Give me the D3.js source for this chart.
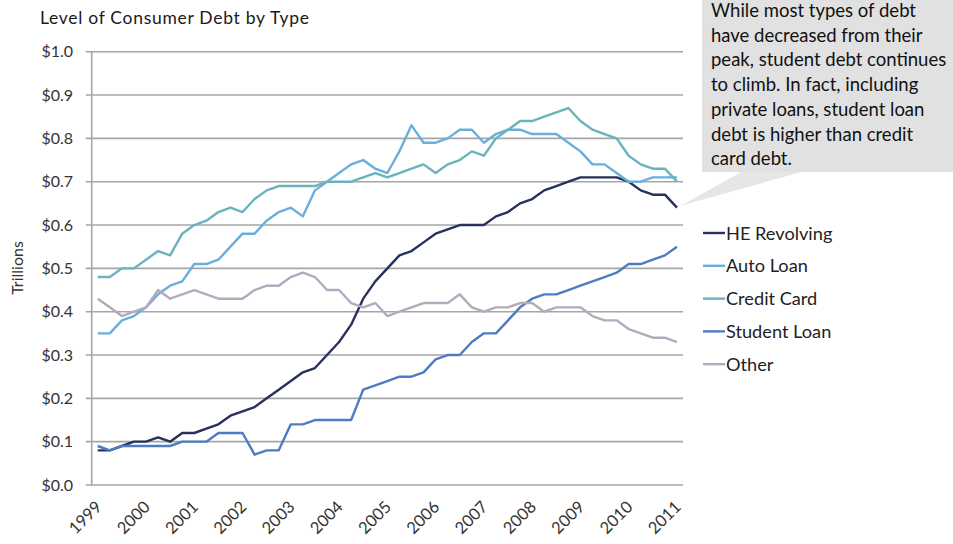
<!DOCTYPE html>
<html><head><meta charset="utf-8">
<script src="https://cdn.jsdelivr.net/npm/d3@7"></script>
<style>body{margin:0;background:#fff}svg{display:block}text{font-family:Lato,"Open Sans",sans-serif;fill:#1a1a1a}</style>
</head><body><svg id="c" width="953" height="544"></svg>
<script>
const years = ["1999","2000","2001","2002","2003","2004","2005","2006","2007","2008","2009","2010","2011"];
const seriesNames = ["HE Revolving","Auto Loan","Credit Card","Student Loan","Other"];
const colors = ["#28305c","#6aafdb","#6ab3bd","#4d7cc4","#b3abbd"];
const heRevolving = [0.08,0.08,0.09,0.10,0.10,0.11,0.10,0.12,0.12,0.13,0.14,0.16,0.17,0.18,0.20,0.22,0.24,0.26,0.27,0.30,0.33,0.37,0.43,0.47,0.50,0.53,0.54,0.56,0.58,0.59,0.60,0.60,0.60,0.62,0.63,0.65,0.66,0.68,0.69,0.70,0.71,0.71,0.71,0.71,0.70,0.68,0.67,0.67,0.64];
const autoLoan = [0.35,0.35,0.38,0.39,0.41,0.44,0.46,0.47,0.51,0.51,0.52,0.55,0.58,0.58,0.61,0.63,0.64,0.62,0.68,0.70,0.72,0.74,0.75,0.73,0.72,0.77,0.83,0.79,0.79,0.80,0.82,0.82,0.79,0.81,0.82,0.82,0.81,0.81,0.81,0.79,0.77,0.74,0.74,0.72,0.70,0.70,0.71,0.71,0.71];
const creditCard = [0.48,0.48,0.50,0.50,0.52,0.54,0.53,0.58,0.60,0.61,0.63,0.64,0.63,0.66,0.68,0.69,0.69,0.69,0.69,0.70,0.70,0.70,0.71,0.72,0.71,0.72,0.73,0.74,0.72,0.74,0.75,0.77,0.76,0.80,0.82,0.84,0.84,0.85,0.86,0.87,0.84,0.82,0.81,0.80,0.76,0.74,0.73,0.73,0.70];
const studentLoan = [0.09,0.08,0.09,0.09,0.09,0.09,0.09,0.10,0.10,0.10,0.12,0.12,0.12,0.07,0.08,0.08,0.14,0.14,0.15,0.15,0.15,0.15,0.22,0.23,0.24,0.25,0.25,0.26,0.29,0.30,0.30,0.33,0.35,0.35,0.38,0.41,0.43,0.44,0.44,0.45,0.46,0.47,0.48,0.49,0.51,0.51,0.52,0.53,0.55];
const other = [0.43,0.41,0.39,0.40,0.41,0.45,0.43,0.44,0.45,0.44,0.43,0.43,0.43,0.45,0.46,0.46,0.48,0.49,0.48,0.45,0.45,0.42,0.41,0.42,0.39,0.40,0.41,0.42,0.42,0.42,0.44,0.41,0.40,0.41,0.41,0.42,0.42,0.40,0.41,0.41,0.41,0.39,0.38,0.38,0.36,0.35,0.34,0.34,0.33];
const yTicks = [0,0.1,0.2,0.3,0.4,0.5,0.6,0.7,0.8,0.9,1.0];
const noteLines = ["While most types of debt","have decreased from their","peak, student debt continues","to climb. In fact, including","private loans, student loan","debt is higher than credit","card debt."];

const allSeries = [heRevolving, autoLoan, creditCard, studentLoan, other];
const quarters = d3.range(heRevolving.length);
const svg = d3.select("#c");
const L = 91.7, R = 683, T = 51.7, B = 485;
const x = d3.scaleBand().domain(quarters).range([L, R]);
const xc = i => x(i) + x.bandwidth()/2;
const y = d3.scaleLinear().domain([0, 1]).range([B, T]);

// gridlines
svg.append("g").selectAll("line").data(yTicks).join("line")
  .attr("x1", L-6).attr("x2", R).attr("y1", d=>y(d)).attr("y2", d=>y(d))
  .attr("stroke", "#a6a6a6").attr("stroke-width", 1.6);
svg.append("line").attr("x1", L).attr("x2", L).attr("y1", T).attr("y2", B)
  .attr("stroke", "#a6a6a6").attr("stroke-width", 1.6);

svg.append("g").selectAll("text").data(yTicks).join("text")
  .attr("x", 73).attr("y", d=>y(d)+5.5).attr("text-anchor","end")
  .attr("font-size", 16).style("fill","#333").text(d=>"$"+d.toFixed(1));

// x labels
svg.append("g").selectAll("text").data(years).join("text")
  .attr("text-anchor","end").attr("font-size", 16.5).style("fill","#333")
  .attr("transform", (d,k)=>`translate(${xc(k*4)+5},${508}) rotate(-45)`)
  .text(d=>d);

// lines
const line = d3.line().x((d,i)=>xc(i)).y(d=>y(d));
svg.append("g").selectAll("path").data(allSeries).join("path")
  .attr("d", line).attr("fill","none").attr("stroke",(d,i)=>colors[i])
  .attr("stroke-width", 2.4).attr("stroke-linejoin","round");

// titles
svg.append("text").attr("x", 40).attr("y", 24).attr("font-size", 17.5).attr("letter-spacing", 0.7).text("Level of Consumer Debt by Type");
svg.append("text").attr("transform","translate(23,268) rotate(-90)").attr("text-anchor","middle")
  .attr("font-size", 16).style("fill","#333").text("Trillions");

// legend
const lg = svg.append("g").selectAll("g").data(seriesNames).join("g")
  .attr("transform",(d,i)=>`translate(703,${233 + i*32.8})`);
lg.append("line").attr("x1",0).attr("x2",22).attr("stroke",(d,i)=>colors[i]).attr("stroke-width",2.4);
lg.append("text").attr("x",23).attr("y",6.5).attr("font-size",18.2).style("fill","#222").text(d=>d);

// annotation callout
svg.append("path").attr("d","M743,171 L805,171 L680,206 Z").attr("fill","#e6e6e6");
svg.append("rect").attr("x",702).attr("y",-2).attr("width",260).attr("height",174).attr("fill","#e1e1e1");
svg.append("g").selectAll("text").data(noteLines).join("text")
  .attr("x",711).attr("y",(d,i)=>17 + i*24.7).attr("font-size",18.5).style("fill","#111").text(d=>d);
</script></body></html>
